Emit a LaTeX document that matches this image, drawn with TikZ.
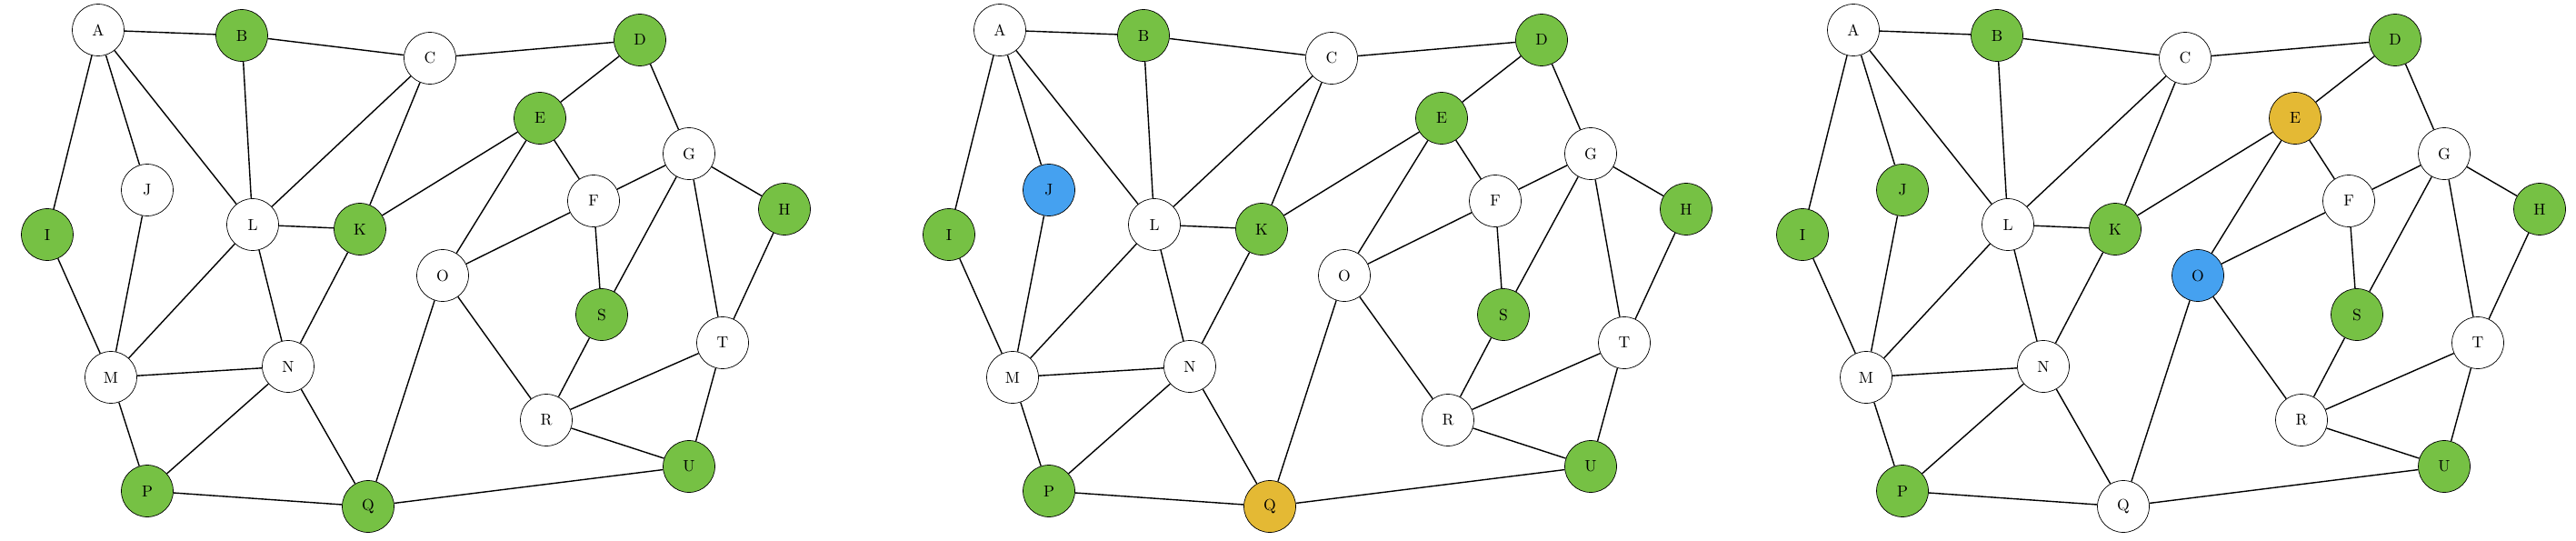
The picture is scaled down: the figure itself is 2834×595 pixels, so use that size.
\documentclass[tikz,border=0pt]{standalone}
\usepackage{xcolor}
\usepackage{tikz}
\definecolor{vgreen}{RGB}{118,193,68}
\definecolor{vblue}{RGB}{69,161,240}
\definecolor{vyellow}{RGB}{228,185,52}

\begin{document}
\begin{tikzpicture}[x=0.02cm,y=-0.02cm,
  vx/.style={circle,draw=black,minimum size=1.14cm,inner sep=0pt,font=\normalsize},
  ed/.style={thick,black}]
\useasboundingbox (0,0) rectangle (2834,595);
% one panel per colouring
\foreach \dx/\cJ/\cE/\cO/\cQ [count=\pn] in {0/white/vgreen/white/vgreen,
    992/vblue/vgreen/white/vyellow, 1931/vgreen/vyellow/vblue/white}{
  \begin{scope}[shift={(\dx,0)},name prefix=g\pn-]
    \foreach \n/\x/\y/\col in {A/108/33/white, B/266/39/vgreen, C/473/64/white,
        D/704/44/vgreen, E/594/130/\cE, F/653/221/white, G/758/169/white,
        H/863/230/vgreen, I/52/258/vgreen, J/162/209/\cJ, K/396/252/vgreen,
        L/278/247/white, M/122/415/white, N/317/403/white, O/487/303/\cO,
        P/162/540/vgreen, Q/405/557/\cQ, R/601/462/white, S/662/346/vgreen,
        T/795/377/white, U/758/513/vgreen}
      \node[vx,fill=\col] (\n) at (\x,\y) {\n};
    \foreach \a/\b in {A/B, A/I, A/J, A/L, B/C, B/L, C/D, C/L, C/K, D/E, D/G,
        E/K, E/F, E/O, F/G, F/O, F/S, G/H, G/S, G/T, H/T, I/M, J/M, L/K, L/M,
        L/N, K/N, M/N, M/P, N/P, N/Q, O/Q, O/R, P/Q, Q/U, R/S, R/T, R/U, T/U}
      \draw[ed] (\a)--(\b);
  \end{scope}
}
\end{tikzpicture}
\end{document}
